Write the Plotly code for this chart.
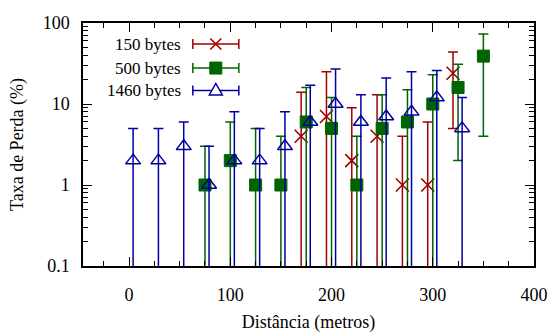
import plotly.graph_objects as go

# ---------------- data ----------------
series_names = ["150 bytes", "500 bytes", "1460 bytes"]

# 150 bytes (plotted slightly left of nominal distance)
dist_150 = [170, 195, 220, 245, 270, 295, 320]
loss_150 = [4, 7, 2, 4, 1, 1, 24]
upper_150 = [14, 25, 9, 13, 4, 6, 44]
lower_150 = [0, 0, 0, 0, 0, 0, 5]

# 500 bytes
dist_500 = [75, 100, 125, 150, 175, 200, 225, 250, 275, 300, 325, 350]
loss_500 = [1, 2, 1, 1, 6, 5, 1, 5, 6, 10, 16, 39]
upper_500 = [3, 6, 5, 4, 16, 12, 4, 13, 15, 23, 31, 73]
lower_500 = [0, 0, 0, 0, 0, 0, 0, 0, 0, 0, 2, 4]

# 1460 bytes (plotted slightly right of nominal distance)
dist_1460 = [4, 29, 54, 79, 104, 129, 154, 179, 204, 229, 254, 279, 304, 329]
loss_1460 = [2, 2, 3, 1, 2, 2, 3, 6, 10, 6, 7, 8, 12, 5]
upper_1460 = [5, 5, 6, 3, 8, 5, 8, 17, 27, 13, 21, 25, 26, 12]
lower_1460 = [0] * 14

x_ticks = [0, 100, 200, 300, 400]
y_ticks = [0.1, 1, 10, 100]
y_tick_labels = ["0.1", "1", "10", "100"]
y_minor = [m * 10 ** e for e in (-1, 0, 1) for m in range(2, 10)]

RED = "#a00000"
GREEN = "#006400"
BLUE = "#0000a0"
FONT = "Liberation Serif"
FS = 18


def err(vals, up, lo):
    plus = [u - v for u, v in zip(up, vals)]
    minus = [v - l for v, l in zip(vals, lo)]
    return plus, minus


styles = [
    (dist_150, loss_150, upper_150, lower_150, RED,
     dict(symbol="x-thin-open", size=13, color=RED, line=dict(color=RED, width=1.6))),
    (dist_500, loss_500, upper_500, lower_500, GREEN,
     dict(symbol="square", size=12, color=GREEN, line=dict(color=GREEN, width=1))),
    (dist_1460, loss_1460, upper_1460, lower_1460, BLUE,
     dict(symbol="triangle-up-open", size=13, color=BLUE, line=dict(color=BLUE, width=1.5))),
]

fig = go.Figure()
for name, (xs, ys, up, lo, col, mk) in zip(series_names, styles):
    plus, minus = err(ys, up, lo)
    fig.add_trace(go.Scatter(
        x=xs, y=ys, mode="markers", name=name, showlegend=False,
        marker=mk,
        error_y=dict(type="data", symmetric=False, array=plus, arrayminus=minus,
                     color=col, thickness=1.5, width=5),
    ))

# ---- legend: text on the left, error-bar glyph with marker on the right ----
leg_y = [0.9135, 0.8146, 0.7223]
leg_x = 0.2945
glyph_paths = [
    ("M-5.5,-5.5 L5.5,5.5 M-5.5,5.5 L5.5,-5.5", None, 1.6),
    ("M-6,-6 L6,-6 L6,6 L-6,6 Z", GREEN, 1),
    ("M-6.5,-4.5 L6.5,-4.5 L0,7 Z", "white", 1.5),
]
for name, (xs, ys, up, lo, col, mk), ly, (gpath, gfill, gw) in zip(series_names, styles, leg_y, glyph_paths):
    common = dict(type="path", xref="paper", yref="paper", xsizemode="pixel", ysizemode="pixel",
                  xanchor=leg_x, yanchor=ly)
    fig.add_shape(path="M-23,0 L23,0 M-23,-5 L-23,5 M23,-5 L23,5",
                  line=dict(color=col, width=1.5), **common)
    shape_kw = dict(path=gpath, line=dict(color=col, width=gw), **common)
    if gfill:
        shape_kw["fillcolor"] = gfill
    fig.add_shape(**shape_kw)
    fig.add_annotation(x=0.2214, y=ly, xref="paper", yref="paper", text=name,
                       showarrow=False, xanchor="right", yanchor="middle",
                       font=dict(family=FONT, size=17, color="black"))

axis_common = dict(
    showline=True, linecolor="black", linewidth=1.5, mirror="allticks",
    ticks="inside", ticklen=9, tickwidth=1, tickcolor="black",
    showgrid=False, zeroline=False, automargin=False,
    tickfont=dict(family=FONT, size=FS, color="black"),
)

fig.update_layout(
    width=552, height=333,
    margin=dict(l=83, r=18, t=23, b=67),
    paper_bgcolor="white", plot_bgcolor="white",
    showlegend=False,
    xaxis=dict(range=[-45.5, 400], tickmode="array", tickvals=x_ticks,
               minor=dict(dtick=25, tick0=0, ticks="inside", ticklen=5, tickcolor="black", showgrid=False),
               title=dict(text="Distância (metros)", font=dict(family=FONT, size=FS, color="black"),
                          standoff=22),
               ticklabelstandoff=12,
               **axis_common),
    yaxis=dict(type="log", range=[-1, 2], tickmode="array", tickvals=y_ticks, ticktext=y_tick_labels,
               minor=dict(tickmode="array", tickvals=y_minor, ticks="inside", ticklen=5,
                          tickcolor="black", showgrid=False),
               title=dict(text="Taxa de Perda (%)", font=dict(family=FONT, size=FS, color="black"),
                          standoff=14),
               ticklabelstandoff=8,
               **axis_common),
)

force_font = ("document.querySelectorAll('svg text').forEach(function(t)"
              "{t.style.fontFamily='Liberation Serif';});")
fig.write_html("out.html", post_script=force_font)
